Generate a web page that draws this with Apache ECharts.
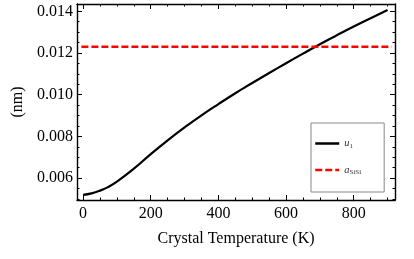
<!DOCTYPE html>
<html><head><meta charset="utf-8">
<script src="https://cdn.jsdelivr.net/npm/echarts@6/dist/echarts.min.js"></script>
<style>html,body{margin:0;padding:0;background:#fff}#c{width:414px;height:259px}</style>
</head><body><div id="c"></div>
<script>
const temperatures = [0,25,50,75,100,150,200,250,300,350,400,450,500,550,600,650,700,750,800,850,900];
const u1Values = [0.00520,0.00527,0.00540,0.00558,0.00583,0.00645,0.00715,0.00781,0.00843,0.00901,0.00955,0.01007,0.01056,0.01104,0.01151,0.01197,0.01242,0.01285,0.01327,0.01367,0.01406];
const aSiSiValue = 0.0123;
const aSiSiSpan = [-5, 912];
const xMajorTicks = [0,200,400,600,800];
const xMinorTicks = [50,100,150,250,300,350,450,500,550,650,700,750,850,900];
const yMajorTicks = [0.006,0.008,0.010,0.012,0.014];
const yMinorTicks = [0.0050,0.0055,0.0065,0.0070,0.0075,0.0085,0.0090,0.0095,0.0105,0.0110,0.0115,0.0125,0.0130,0.0135];
const xRange = [-18, 922];
const yRange = [0.00495, 0.01435];

const FONT = 'Liberation Serif';
const chart = echarts.init(document.getElementById('c'), null, {renderer:'canvas'});

function mkAxis(pos, ticks, len, main, labels, range, extra) {
  return Object.assign({
    type: 'value', position: pos, min: range[0], max: range[1],
    axisLine: {show: main, onZero: false, lineStyle: {color: '#000', width: 1.4}},
    axisTick: {show: true, inside: true, length: len, customValues: ticks, lineStyle: {color: '#000', width: 1}},
    axisLabel: labels ? Object.assign({show: true, color: '#000', fontFamily: FONT, fontSize: 16}, labels) : {show: false},
    splitLine: {show: false}, minorTick: {show: false}
  }, extra || {});
}

const xAxes = [
  mkAxis('bottom', xMajorTicks, 5, true, {customValues: xMajorTicks, margin: 6}, xRange,
    {name: 'Crystal Temperature (K)', nameLocation: 'middle', nameGap: 31,
     nameTextStyle: {color: '#000', fontFamily: FONT, fontSize: 16}}),
  mkAxis('bottom', xMinorTicks, 2.5, false, null, xRange),
  mkAxis('top', xMajorTicks, 5, true, null, xRange),
  mkAxis('top', xMinorTicks, 2.5, false, null, xRange)
];
const yAxes = [
  mkAxis('left', yMajorTicks, 5, true, {customValues: yMajorTicks, margin: 4, formatter: v => v.toFixed(3)}, yRange,
    {name: '(nm)', nameLocation: 'middle', nameGap: 51, nameRotate: 90,
     nameTextStyle: {color: '#000', fontFamily: FONT, fontSize: 16}}),
  mkAxis('left', yMinorTicks, 2.5, false, null, yRange),
  mkAxis('right', yMajorTicks, 5, true, null, yRange),
  mkAxis('right', yMinorTicks, 2.5, false, null, yRange)
];

const option = {
  animation: false,
  backgroundColor: '#fff',
  grid: {left: 77, top: 4, right: 19, bottom: 59, containLabel: false},
  xAxis: xAxes,
  yAxis: yAxes,
  legend: {
    orient: 'vertical', left: 311, top: 123,
    padding: [15, 23, 16, 3], itemGap: 15, itemWidth: 24, itemHeight: 12, itemTextGap: 2,
    borderColor: '#888', borderWidth: 1, backgroundColor: '#fff',
    itemStyle: {color: 'rgba(0,0,0,0)', borderColor: 'rgba(0,0,0,0)', borderWidth: 0},
    lineStyle: {width: 2.5},
    data: ['u1', 'aSiSi'],
    formatter: n => n === 'u1' ? '{i|u}{s|1}' : '{i|a}{s|SiSi}',
    textStyle: {
      color: '#333', fontFamily: FONT,
      rich: {
        i: {fontStyle: 'italic', fontSize: 10.5, fontFamily: FONT, color: '#333', lineHeight: 12},
        s: {fontSize: 7, fontFamily: FONT, color: '#333', lineHeight: 8, verticalAlign: 'bottom'}
      }
    }
  },
  series: [
    {
      name: 'u1', type: 'line', xAxisIndex: 0, yAxisIndex: 0, symbol: 'none', smooth: true,
      lineStyle: {color: '#000', width: 2.2}, itemStyle: {color: '#000'},
      data: temperatures.map((t, i) => [t, u1Values[i]])
    },
    {
      name: 'aSiSi', type: 'line', xAxisIndex: 0, yAxisIndex: 0, symbol: 'none',
      lineStyle: {color: '#ff0000', width: 2.4, type: [7, 3]}, itemStyle: {color: '#ff0000'},
      data: aSiSiSpan.map(t => [t, aSiSiValue])
    }
  ]
};
chart.setOption(option);
</script></body></html>
